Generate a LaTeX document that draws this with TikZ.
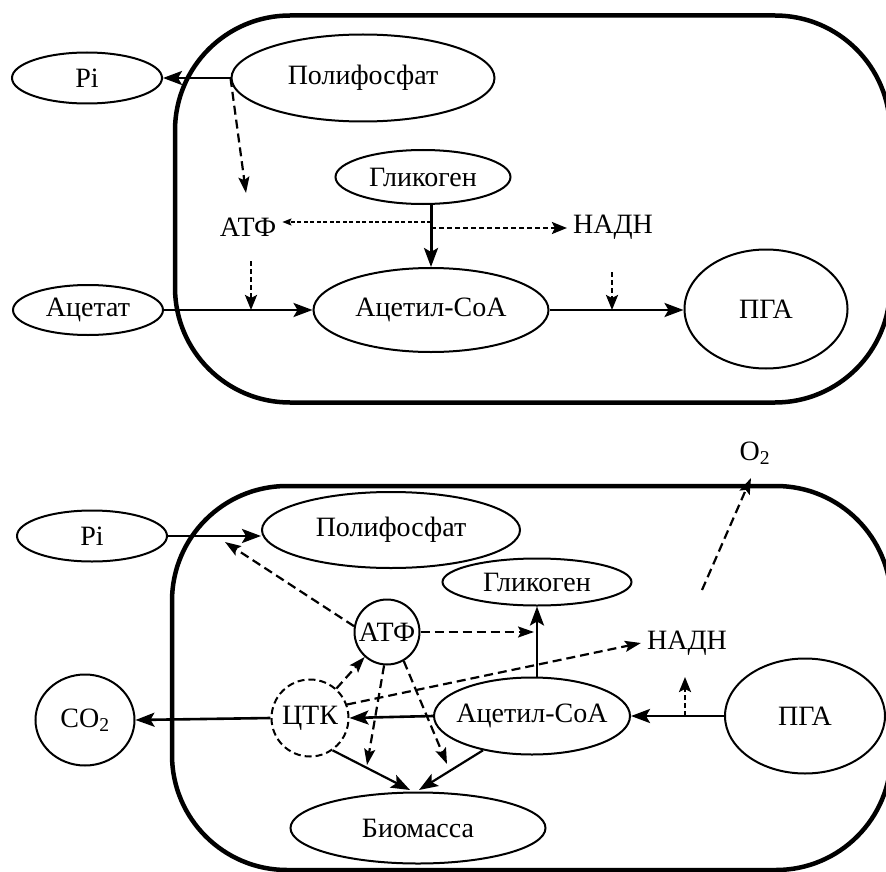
\documentclass[tikz,border=0pt]{standalone}
\usepackage{fontspec}
\setmainfont{Liberation Serif}
\usetikzlibrary{arrows.meta,shapes.geometric}
\begin{document}
\begin{tikzpicture}[x=1pt,y=-1pt,
  every node/.style={font=\fontsize{28}{33}\selectfont},
  cell/.style={line width=4.5pt, rounded corners=115pt},
  ell/.style={draw, ellipse, inner sep=0pt, line width=2pt},
  circ/.style={draw, circle, inner sep=0pt, line width=2pt},
  txt/.style={inner sep=6pt},
  arr/.style={line width=2.6pt, -{Stealth[length=19pt,width=14pt,inset=4pt]}},
  darr/.style={line width=2.2pt, dash pattern=on 9pt off 5pt, -{Stealth[length=16pt,width=11pt,inset=3pt]}},
  sdarr/.style={line width=2.4pt, dash pattern=on 5pt off 3pt, -{Stealth[length=15pt,width=12pt,inset=3pt]}},
  tdarr/.style={line width=1.4pt, dash pattern=on 4pt off 2.5pt, -{Stealth[length=9pt,width=7pt,inset=1.5pt]}}
]
\useasboundingbox (0,0) rectangle (886,872);

% ---------- top panel ----------
\draw[cell] (175,15.5) rectangle (890,402.5);

\node[ell, minimum width=150pt, minimum height=51pt] (pi1) at (87,78) {\makebox[0pt]{Pi}};
\node[ell, minimum width=263pt, minimum height=87pt] (pol1) at (363,78) {\makebox[0pt]{Полифосфат}};
\node[ell, minimum width=175pt, minimum height=54pt] (gly1) at (423,177) {\makebox[0pt]{Гликоген}};
\node[txt] (atf1) at (248,227) {АТФ};
\node[txt] (nadh1) at (613,227) {НАДН};
\node[ell, minimum width=150pt, minimum height=50pt] (ace1) at (88,310) {\makebox[0pt]{Ацетат}};
\node[ell, minimum width=235pt, minimum height=84pt] (acc1) at (431,310) {\makebox[0pt]{Ацетил-CoA}};
\node[ell, minimum width=163pt, minimum height=119pt] (pga1) at (766,309) {\makebox[0pt]{ПГА}};

\coordinate (atf1in) at (246,193);
\coordinate (b1) at (431,222);
\coordinate (b2) at (431,228);
\coordinate (m1a) at (251,261);
\coordinate (m1b) at (251,310);
\coordinate (m2a) at (612,272);
\coordinate (m2b) at (612,310);

\draw[arr] (pol1.west) -- (pi1.east);
\draw[darr] (pol1.west) -- (atf1in);
\draw[arr, line width=3pt] (gly1.south -| acc1.north) -- (acc1.north);
\draw[tdarr] (b1) -- (b1 -| atf1.east);
\draw[sdarr] (b2) -- (b2 -| nadh1.west);
\draw[arr] (ace1.east) -- (acc1.west);
\draw[sdarr] (m1a) -- (m1b);
\draw[arr] (acc1.east) -- (acc1.east -| pga1.west);
\draw[sdarr] (m2a) -- (m2b);

% ---------- bottom panel ----------
\draw[cell] (172,486) rectangle (891,870);

\node[ell, minimum width=150pt, minimum height=51pt] (pi2) at (92,536) {\makebox[0pt]{Pi}};
\node[ell, minimum width=258pt, minimum height=76pt] (pol2) at (391,530) {\makebox[0pt]{Полифосфат}};
\node[ell, minimum width=189pt, minimum height=47pt] (gly2) at (537,582) {\makebox[0pt]{Гликоген}};
\node[circ, minimum size=65pt] (atf2) at (387,632) {\makebox[0pt]{АТФ}};
\node[circ, dash pattern=on 7pt off 4pt, minimum size=77pt] (ctk) at (310,718) {\makebox[0pt]{ЦТК}};
\node[ell, minimum width=99pt, minimum height=91pt] (co2) at (85,720) {\makebox[0pt]{CO\textsubscript{2}}};
\node[ell, minimum width=196pt, minimum height=77pt] (acc2) at (532,716) {\makebox[0pt]{Ацетил-CoA}};
\node[ell, minimum width=160pt, minimum height=115pt] (pga2) at (805,716) {\makebox[0pt]{ПГА}};
\node[ell, minimum width=255pt, minimum height=71pt] (bio) at (418,828) {\makebox[0pt]{Биомасса}};
\node[txt] (nadh2) at (687,643) {НАДН};
\node[txt] (o2) at (755,453) {O\textsubscript{2}};

\coordinate (pt) at (225,542);
\coordinate (gv) at (534,632);
\coordinate (m3a) at (685,716);
\coordinate (m3b) at (685,677);
\coordinate (bt1) at (367,765);
\coordinate (bt2) at (447,764);
\coordinate (bt3) at (410,790);
\coordinate (bt4) at (419,790);
\coordinate (ns) at (702,590);
\coordinate (ot) at (751,478);

\draw[arr] (pi2.east) -- (pi2.east -| pol2.west);
\draw[darr] (atf2.170) -- (pt);
\draw[darr] (atf2.east) -- (gv);
\draw[arr] (acc2.north -| gly2.south) -- (gly2.south);
\draw[darr] (ctk.20) -- (nadh2.west);
\draw[arr] (pga2.west) -- (acc2.east);
\draw[sdarr] (m3a) -- (m3b);
\draw[arr] (acc2.west) -- (ctk.east);
\draw[arr] (ctk.west) -- (co2.east);
\draw[darr] (ctk) -- (atf2);
\draw[darr] (atf2.265) -- (bt1);
\draw[darr] (atf2.300) -- (bt2);
\draw[arr, line width=2.2pt] (ctk.305) -- (bt3);
\draw[arr, line width=2.2pt] (acc2.215) -- (bt4);
\draw[darr] (ns) -- (ot);
\end{tikzpicture}
\end{document}
